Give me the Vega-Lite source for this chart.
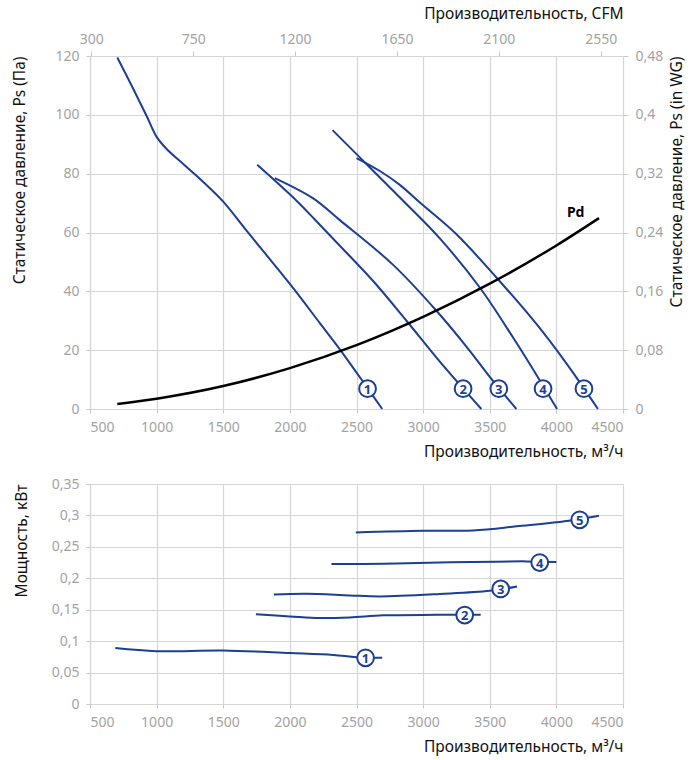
{
  "$schema": "https://vega.github.io/schema/vega-lite/v6.json",
  "padding": {"left": 12, "top": 6, "right": 8, "bottom": 6},
  "spacing": 17,
  "config": {
    "view": {"stroke": null},
    "font": "Noto Sans",
    "axis": {
      "labelFont": "Noto Sans", "labelFontSize": 14, "labelColor": "#a3a3a3",
      "titleFont": "Noto Sans", "titleFontSize": 15.5, "titleFontWeight": "normal", "titleColor": "#111111",
      "gridColor": "#d6d6d6", "gridWidth": 1.2, "domainColor": "#d6d6d6", "domainWidth": 1.2,
      "tickColor": "#c8c8c8", "tickSize": 4, "labelPadding": 7, "titleAnchor": "end"
    }
  },
  "datasets": {
    "pressure": [
      {"c": "1", "q": 705, "p": 119.5}, {"c": "1", "q": 825, "p": 108.8}, {"c": "1", "q": 925, "p": 99.6},
      {"c": "1", "q": 1000, "p": 92.5}, {"c": "1", "q": 1075, "p": 88.4}, {"c": "1", "q": 1212, "p": 82.8},
      {"c": "1", "q": 1350, "p": 77.2}, {"c": "1", "q": 1500, "p": 70.5}, {"c": "1", "q": 1675, "p": 60.6},
      {"c": "1", "q": 2000, "p": 42.5}, {"c": "1", "q": 2225, "p": 29.2}, {"c": "1", "q": 2375, "p": 20.3},
      {"c": "1", "q": 2580, "p": 7.3}, {"c": "1", "q": 2693, "p": 0},
      {"c": "2", "q": 1755, "p": 83.0}, {"c": "2", "q": 2050, "p": 70.8}, {"c": "2", "q": 2187, "p": 64.4},
      {"c": "2", "q": 2375, "p": 55.5}, {"c": "2", "q": 2625, "p": 43.5}, {"c": "2", "q": 2875, "p": 30.0},
      {"c": "2", "q": 3100, "p": 17.5}, {"c": "2", "q": 3300, "p": 7.0}, {"c": "2", "q": 3437, "p": 0},
      {"c": "3", "q": 1887, "p": 78.5}, {"c": "3", "q": 2175, "p": 71.6}, {"c": "3", "q": 2375, "p": 64.2},
      {"c": "3", "q": 2775, "p": 49.0}, {"c": "3", "q": 3100, "p": 33.4},
      {"c": "3", "q": 3350, "p": 19.8}, {"c": "3", "q": 3500, "p": 10.9}, {"c": "3", "q": 3700, "p": 0},
      {"c": "4", "q": 2320, "p": 94.8}, {"c": "4", "q": 2625, "p": 81.0},
      {"c": "4", "q": 2850, "p": 70.8}, {"c": "4", "q": 3125, "p": 58.0},
      {"c": "4", "q": 3425, "p": 41.3}, {"c": "4", "q": 3675, "p": 24.3}, {"c": "4", "q": 3875, "p": 9.8},
      {"c": "4", "q": 4005, "p": 0},
      {"c": "5", "q": 2500, "p": 85.3}, {"c": "5", "q": 2675, "p": 80.9}, {"c": "5", "q": 2825, "p": 76.2},
      {"c": "5", "q": 2980, "p": 70.0}, {"c": "5", "q": 3250, "p": 59.4}, {"c": "5", "q": 3550, "p": 44.7},
      {"c": "5", "q": 3850, "p": 28.9}, {"c": "5", "q": 4075, "p": 15.5}, {"c": "5", "q": 4312, "p": 0}
    ],
    "pd": [
      {"q": 705, "p": 1.7}, {"q": 1000, "p": 3.5}, {"q": 1500, "p": 7.8}, {"q": 2000, "p": 13.9},
      {"q": 2500, "p": 21.7}, {"q": 3000, "p": 31.3}, {"q": 3500, "p": 42.6}, {"q": 4000, "p": 55.6},
      {"q": 4320, "p": 64.9}
    ],
    "pdlabel": [{"q": 4145, "p": 66.6, "t": "Pd"}],
    "markP": [
      {"c": "1", "q": 2583, "p": 6.9}, {"c": "2", "q": 3300, "p": 6.9}, {"c": "3", "q": 3568, "p": 6.9},
      {"c": "4", "q": 3900, "p": 6.9}, {"c": "5", "q": 4207, "p": 6.9}
    ],
    "axis2": [{"cfm": 300, "wg": 0}],
    "power": [
      {"c": "1", "q": 690, "w": 0.089}, {"c": "1", "q": 1000, "w": 0.084}, {"c": "1", "q": 1500, "w": 0.085},
      {"c": "1", "q": 2000, "w": 0.081}, {"c": "1", "q": 2325, "w": 0.078}, {"c": "1", "q": 2500, "w": 0.0745},
      {"c": "1", "q": 2693, "w": 0.0737},
      {"c": "2", "q": 1745, "w": 0.1426}, {"c": "2", "q": 2000, "w": 0.1394}, {"c": "2", "q": 2225, "w": 0.1368},
      {"c": "2", "q": 2450, "w": 0.1378}, {"c": "2", "q": 2700, "w": 0.141}, {"c": "2", "q": 3100, "w": 0.1418},
      {"c": "2", "q": 3432, "w": 0.142},
      {"c": "3", "q": 1880, "w": 0.1744}, {"c": "3", "q": 2125, "w": 0.1755}, {"c": "3", "q": 2450, "w": 0.1728},
      {"c": "3", "q": 2675, "w": 0.1712}, {"c": "3", "q": 3125, "w": 0.175}, {"c": "3", "q": 3500, "w": 0.180},
      {"c": "3", "q": 3705, "w": 0.187},
      {"c": "4", "q": 2312, "w": 0.2227}, {"c": "4", "q": 2700, "w": 0.2232}, {"c": "4", "q": 3125, "w": 0.2253},
      {"c": "4", "q": 3775, "w": 0.2269}, {"c": "4", "q": 4000, "w": 0.226},
      {"c": "5", "q": 2495, "w": 0.273}, {"c": "5", "q": 3000, "w": 0.2757}, {"c": "5", "q": 3375, "w": 0.276},
      {"c": "5", "q": 3500, "w": 0.278}, {"c": "5", "q": 3700, "w": 0.2826}, {"c": "5", "q": 4000, "w": 0.289},
      {"c": "5", "q": 4320, "w": 0.2996}
    ],
    "markW": [
      {"c": "1", "q": 2568, "w": 0.0735}, {"c": "2", "q": 3312, "w": 0.1415}, {"c": "3", "q": 3582, "w": 0.1830},
      {"c": "4", "q": 3875, "w": 0.2250}, {"c": "5", "q": 4175, "w": 0.2930}
    ]
  },
  "vconcat": [
    {
      "width": 533,
      "height": 353,
      "layer": [
        {
          "encoding": {
            "x": {"field": "q", "type": "quantitative",
              "scale": {"domain": [500, 4500], "nice": false},
              "axis": {"values": [500, 1000, 1500, 2000, 2500, 3000, 3500, 4000, 4500], "format": "d",
                "title": "Производительность, м³/ч", "titlePadding": 10}},
            "y": {"field": "p", "type": "quantitative",
              "scale": {"domain": [0, 120], "nice": false},
              "axis": {"values": [0, 20, 40, 60, 80, 100, 120], "title": "Статическое давление, Ps (Па)", "titlePadding": 27}}
          },
          "layer": [
            {"data": {"name": "pressure"}, "mark": {"type": "line", "interpolate": "catmull-rom", "color": "#1c3f94", "strokeWidth": 2},
              "encoding": {"detail": {"field": "c"}}},
            {"data": {"name": "pd"}, "mark": {"type": "line", "interpolate": "monotone", "color": "#000000", "strokeWidth": 2.5},
              "encoding": {}},
            {"data": {"name": "pdlabel"}, "mark": {"type": "text", "fontSize": 14, "fontWeight": "bold", "color": "#000000", "font": "Noto Sans"},
              "encoding": {"text": {"field": "t"}}},
            {"data": {"name": "markP"}, "mark": {"type": "point", "shape": "circle", "filled": true, "fill": "#ffffff", "stroke": "#1c3f94", "strokeWidth": 2, "size": 280, "opacity": 1},
              "encoding": {}},
            {"data": {"name": "markP"}, "mark": {"type": "text", "fontSize": 13, "fontWeight": "bold", "color": "#1c3f94", "font": "Noto Sans", "dy": 1},
              "encoding": {"text": {"field": "c"}}}
          ]
        },
        {
          "data": {"name": "axis2"},
          "mark": {"type": "point", "opacity": 0},
          "encoding": {
            "x": {"field": "cfm", "type": "quantitative",
              "scale": {"domain": [294.3, 2648.6], "nice": false, "zero": false},
              "axis": {"orient": "top", "values": [300, 750, 1200, 1650, 2100, 2550], "format": "d", "grid": false, "domain": false,
                "title": "Производительность, CFM", "titlePadding": 11, "labelPadding": 5, "tickSize": 5}},
            "y": {"field": "wg", "type": "quantitative",
              "scale": {"domain": [0, 0.48], "nice": false},
              "axis": {"orient": "right", "values": [0, 0.08, 0.16, 0.24, 0.32, 0.4, 0.48], "grid": false, "domain": false,
                "labelExpr": "replace(toString(datum.value), '.', ',')", "tickSize": 5, "labelPadding": 7,
                "title": "Статическое давление, Ps (in WG)", "titleAngle": 270, "titleBaseline": "top", "titlePadding": 7}}
          }
        }
      ],
      "resolve": {"scale": {"x": "independent", "y": "independent"}, "axis": {"x": "independent", "y": "independent"}}
    },
    {
      "width": 533,
      "height": 220,
      "encoding": {
        "x": {"field": "q", "type": "quantitative",
          "scale": {"domain": [500, 4500], "nice": false},
          "axis": {"values": [500, 1000, 1500, 2000, 2500, 3000, 3500, 4000, 4500], "format": "d",
            "title": "Производительность, м³/ч", "titlePadding": 10}},
        "y": {"field": "w", "type": "quantitative",
          "scale": {"domain": [0, 0.35], "nice": false},
          "axis": {"values": [0, 0.05, 0.1, 0.15, 0.2, 0.25, 0.3, 0.35],
            "labelExpr": "replace(toString(datum.value), '.', ',')",
            "title": "Мощность, кВт", "titlePadding": 22}}
      },
      "layer": [
        {"data": {"name": "power"}, "mark": {"type": "line", "interpolate": "catmull-rom", "color": "#1c3f94", "strokeWidth": 2},
          "encoding": {"detail": {"field": "c"}}},
        {"data": {"name": "markW"}, "mark": {"type": "point", "shape": "circle", "filled": true, "fill": "#ffffff", "stroke": "#1c3f94", "strokeWidth": 2, "size": 280, "opacity": 1},
          "encoding": {}},
        {"data": {"name": "markW"}, "mark": {"type": "text", "fontSize": 13, "fontWeight": "bold", "color": "#1c3f94", "font": "Noto Sans", "dy": 1},
          "encoding": {"text": {"field": "c"}}}
      ]
    }
  ]
}
